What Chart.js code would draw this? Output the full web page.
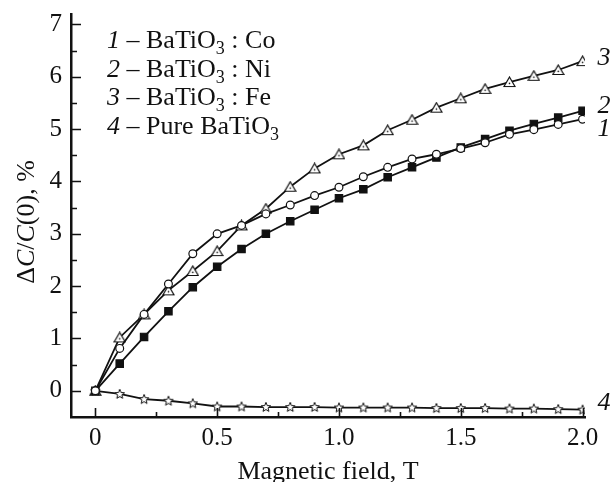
<!DOCTYPE html>
<html>
<head>
<meta charset="utf-8">
<title>Magnetocapacitance of BaTiO3</title>
<script src="https://cdn.jsdelivr.net/npm/chart.js@4.4.0/dist/chart.umd.min.js"></script>
<style>
  html, body { margin: 0; padding: 0; background: #fff; }
</style>
</head>
<body>
<canvas id="fieldChart" width="610" height="482"></canvas>
<script>
// ---- data ----
const fieldT = [0, 0.1, 0.2, 0.3, 0.4, 0.5, 0.6, 0.7, 0.8, 0.9, 1.0,
                1.1, 1.2, 1.3, 1.4, 1.5, 1.6, 1.7, 1.8, 1.9, 2.0];
const coValues = [0, 0.81, 1.46, 2.04, 2.62, 3.00, 3.16, 3.38, 3.55, 3.73, 3.89,
                  4.09, 4.27, 4.43, 4.52, 4.63, 4.74, 4.90, 4.99, 5.09, 5.19];
const niValues = [0, 0.52, 1.03, 1.52, 1.98, 2.37, 2.71, 3.00, 3.24, 3.46, 3.68,
                  3.85, 4.08, 4.27, 4.46, 4.65, 4.81, 4.97, 5.10, 5.22, 5.35];
const feValues = [0, 1.02, 1.46, 1.92, 2.29, 2.67, 3.16, 3.48, 3.90, 4.25, 4.52,
                  4.69, 4.98, 5.18, 5.41, 5.59, 5.77, 5.90, 6.02, 6.13, 6.30];
const pureValues = [0, -0.06, -0.16, -0.19, -0.24, -0.30, -0.30, -0.31, -0.31, -0.31, -0.32,
                    -0.32, -0.32, -0.32, -0.33, -0.33, -0.33, -0.34, -0.34, -0.35, -0.36];

const seriesNumbers = ['1', '2', '3', '4'];
// legend text split as [before subscript, subscript, after subscript]
const seriesLegend = [
  ['BaTiO', '3', ' : Co'],
  ['BaTiO', '3', ' : Ni'],
  ['BaTiO', '3', ' : Fe'],
  ['Pure BaTiO', '3', '']
];

const xTickValues = [0, 0.5, 1.0, 1.5, 2.0];
const xTickLabels = ['0', '0.5', '1.0', '1.5', '2.0'];
const xMinorTicks = [0.25, 0.75, 1.25, 1.75];
const yTickValues = [0, 1, 2, 3, 4, 5, 6, 7];
const yTickLabels = ['0', '1', '2', '3', '4', '5', '6', '7'];
const yMinorTicks = [0.5, 1.5, 2.5, 3.5, 4.5, 5.5, 6.5];

const xTitle = 'Magnetic field, T';

// ---- styling ----
const SERIF = '"Liberation Serif", "Times New Roman", Times, serif';
const INK = '#111';

function makeTriangle() {
  const c = document.createElement('canvas');
  c.width = 13; c.height = 12;
  const g = c.getContext('2d');
  g.beginPath();
  g.moveTo(6.5, 1);
  g.lineTo(12, 10.5);
  g.lineTo(1, 10.5);
  g.closePath();
  g.fillStyle = '#fff';
  g.fill();
  g.lineWidth = 1.2;
  g.strokeStyle = INK;
  g.stroke();
  g.beginPath();
  g.arc(6.5, 7.4, 0.8, 0, Math.PI * 2);
  g.fillStyle = INK;
  g.fill();
  return c;
}

function makeStar() {
  const c = document.createElement('canvas');
  c.width = 12; c.height = 12;
  const g = c.getContext('2d');
  g.beginPath();
  for (let i = 0; i < 10; i++) {
    const r = i % 2 === 0 ? 5 : 2.2;
    const a = -Math.PI / 2 + i * Math.PI / 5;
    const px = 6 + r * Math.cos(a), py = 6.3 + r * Math.sin(a);
    if (i === 0) g.moveTo(px, py); else g.lineTo(px, py);
  }
  g.closePath();
  g.fillStyle = '#fff';
  g.fill();
  g.lineWidth = 1;
  g.strokeStyle = INK;
  g.stroke();
  return c;
}

function toPoints(values) {
  return values.map((v, i) => ({ x: fieldT[i], y: v }));
}

const lineBase = {
  borderColor: INK,
  borderWidth: 1.8,
  tension: 0,
  fill: false,
  pointBorderColor: INK,
  pointBorderWidth: 1.2
};

// per-series end label offsets (px) next to the last point
const endLabelOffsets = [
  { dx: 15, dy: 10 },
  { dx: 15, dy: -5 },
  { dx: 15, dy: -3 },
  { dx: 15, dy: -6 }
];

// inward tick marks, legend, axis title with italic letters, curve numbers
const decorations = {
  id: 'decorations',
  afterDraw(chart) {
    const ctx = chart.ctx;
    const xs = chart.scales.x, ys = chart.scales.y;
    const area = chart.chartArea;
    ctx.save();
    ctx.strokeStyle = INK;
    ctx.lineWidth = 1.6;
    ctx.beginPath();
    yTickValues.forEach(v => {
      const py = Math.round(ys.getPixelForValue(v)) + 0.5;
      ctx.moveTo(area.left, py); ctx.lineTo(area.left + 10, py);
    });
    yMinorTicks.forEach(v => {
      const py = Math.round(ys.getPixelForValue(v)) + 0.5;
      ctx.moveTo(area.left, py); ctx.lineTo(area.left + 6, py);
    });
    xTickValues.forEach(v => {
      const px = Math.round(xs.getPixelForValue(v)) + 0.5;
      ctx.moveTo(px, area.bottom); ctx.lineTo(px, area.bottom - 9);
    });
    xMinorTicks.forEach(v => {
      const px = Math.round(xs.getPixelForValue(v)) + 0.5;
      ctx.moveTo(px, area.bottom); ctx.lineTo(px, area.bottom - 5);
    });
    ctx.stroke();

    // legend block
    ctx.fillStyle = INK;
    ctx.textBaseline = 'alphabetic';
    ctx.textAlign = 'left';
    const legendX = 107, legendY = 48, legendStep = 28.7;
    seriesLegend.forEach((parts, i) => {
      const y = legendY + i * legendStep;
      let x = legendX;
      ctx.font = 'italic 26px ' + SERIF;
      ctx.fillText(seriesNumbers[i], x, y);
      x += ctx.measureText(seriesNumbers[i]).width;
      ctx.font = '26px ' + SERIF;
      const dash = ' \u2013 ' + parts[0];
      ctx.fillText(dash, x, y);
      x += ctx.measureText(dash).width;
      ctx.font = '18px ' + SERIF;
      ctx.fillText(parts[1], x, y + 6);
      x += ctx.measureText(parts[1]).width;
      ctx.font = '26px ' + SERIF;
      ctx.fillText(parts[2], x, y);
    });

    // curve numbers at right end of each line
    ctx.font = 'italic 26px ' + SERIF;
    ctx.textBaseline = 'middle';
    chart.data.datasets.forEach((ds, i) => {
      const meta = chart.getDatasetMeta(i);
      const last = meta.data[meta.data.length - 1];
      const off = endLabelOffsets[i];
      ctx.fillText(seriesNumbers[i], last.x + off.dx, last.y + off.dy);
    });

    // y axis title: ΔC/C(0), % with italic C
    const yParts = [
      ['\u0394', false], ['C', true], ['/', false], ['C', true], ['(0), %', false]
    ];
    let total = 0;
    yParts.forEach(p => {
      ctx.font = (p[1] ? 'italic ' : '') + '26px ' + SERIF;
      total += ctx.measureText(p[0]).width;
    });
    ctx.translate(27, 222);
    ctx.rotate(-Math.PI / 2);
    let tx = -total / 2;
    ctx.textAlign = 'left';
    yParts.forEach(p => {
      ctx.font = (p[1] ? 'italic ' : '') + '26px ' + SERIF;
      ctx.fillText(p[0], tx, 0);
      tx += ctx.measureText(p[0]).width;
    });
    ctx.restore();
  }
};

const chart = new Chart(document.getElementById('fieldChart').getContext('2d'), {
  type: 'line',
  data: {
    datasets: [
      Object.assign({}, lineBase, {
        label: 'BaTiO3:Co', data: toPoints(coValues),
        pointStyle: 'circle', pointRadius: 3.9, pointBackgroundColor: '#fff'
      }),
      Object.assign({}, lineBase, {
        label: 'BaTiO3:Ni', data: toPoints(niValues),
        pointStyle: 'rect', pointRadius: 5.2, pointBackgroundColor: INK
      }),
      Object.assign({}, lineBase, {
        label: 'BaTiO3:Fe', data: toPoints(feValues),
        pointStyle: makeTriangle(), pointRadius: 5
      }),
      Object.assign({}, lineBase, {
        label: 'Pure BaTiO3', data: toPoints(pureValues),
        pointStyle: makeStar(), pointRadius: 5
      })
    ]
  },
  options: {
    responsive: false,
    devicePixelRatio: 1,
    animation: false,
    layout: { padding: { left: 40.5, right: 25, top: 13, bottom: 0 } },
    plugins: {
      legend: { display: false },
      tooltip: { enabled: false }
    },
    scales: {
      x: {
        type: 'linear',
        min: -0.1,
        max: 2.01,
        afterBuildTicks: s => { s.ticks = xTickValues.map(v => ({ value: v })); },
        grid: { display: false, drawTicks: false },
        border: { display: true, color: INK, width: 2.5 },
        ticks: {
          color: INK,
          padding: 4,
          maxRotation: 0,
          font: { family: SERIF, size: 25, lineHeight: 1.36 },
          callback: (v, i) => xTickLabels[i]
        },
        title: {
          display: true,
          text: xTitle,
          color: INK,
          padding: { top: 3, bottom: 0 },
          font: { family: SERIF, size: 26, lineHeight: 0.77 }
        }
      },
      y: {
        type: 'linear',
        min: -0.5,
        max: 7.2,
        afterBuildTicks: s => { s.ticks = yTickValues.map(v => ({ value: v })); },
        grid: { display: false, drawTicks: false },
        border: { display: true, color: INK, width: 2.5 },
        ticks: {
          color: INK,
          padding: 9,
          font: { family: SERIF, size: 25, lineHeight: 0.4 },
          callback: (v, i) => yTickLabels[i]
        }
      }
    }
  },
  plugins: [decorations]
});
</script>
</body>
</html>
